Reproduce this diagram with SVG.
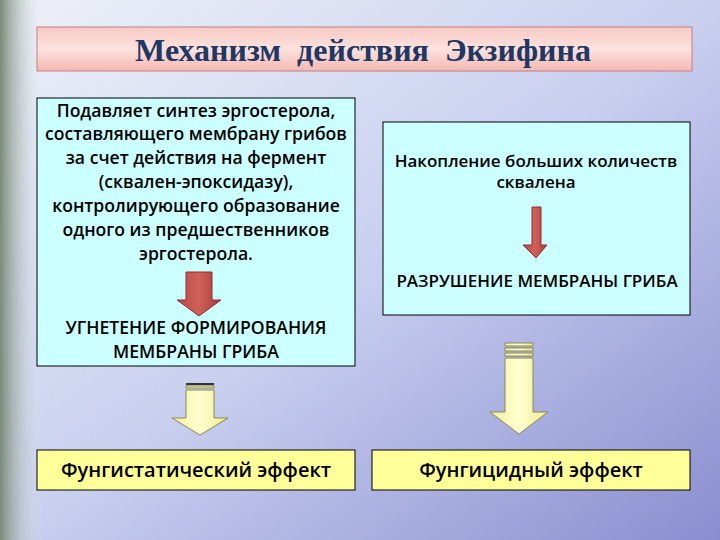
<svg xmlns="http://www.w3.org/2000/svg" width="720" height="540" viewBox="0 0 720 540">
<defs>
<linearGradient id="bg" x1="0" y1="0" x2="1" y2="1"><stop offset="0" stop-color="#eef1f8"/><stop offset="0.5" stop-color="#c9d0ef"/><stop offset="1" stop-color="#8a8ed0"/></linearGradient>
<linearGradient id="lb" x1="0" y1="0" x2="1" y2="0"><stop offset="0" stop-color="#7a8a7a"/><stop offset="0.06" stop-color="#e6eaf2" stop-opacity="0"/></linearGradient>
<linearGradient id="tt" x1="0" y1="0" x2="0" y2="1"><stop offset="0" stop-color="#f7c9c4"/><stop offset="0.5" stop-color="#fde2de"/><stop offset="1" stop-color="#f4b8b2"/></linearGradient>
<linearGradient id="ra" x1="0" y1="0" x2="1" y2="0"><stop offset="0" stop-color="#b84a45"/><stop offset="0.5" stop-color="#d0605a"/><stop offset="1" stop-color="#a83a36"/></linearGradient>
<linearGradient id="ya" x1="0" y1="0" x2="1" y2="0"><stop offset="0" stop-color="#f4f0a0"/><stop offset="0.5" stop-color="#ffffd0"/><stop offset="1" stop-color="#eeea90"/></linearGradient>
</defs>
<style>
.t{font-family:"Open Sans","Liberation Sans",sans-serif;fill:#000;text-anchor:middle;font-weight:600}
.box{fill:#ccffff;stroke:#000;stroke-width:1}
.yb{fill:#ffff99;stroke:#000;stroke-width:1}
.ya{fill:url(#ya);stroke:#8a8a50;stroke-width:1}
</style>
<rect width="720" height="540" fill="url(#bg)"/>
<rect width="720" height="540" fill="url(#lb)"/>
<g id="title"><rect x="37" y="27" width="655" height="44" fill="url(#tt)" stroke="#c08080"/><text x="363" y="61" font-family="Liberation Serif,serif" font-size="32" font-weight="bold" fill="#1f3864" text-anchor="middle" xml:space="preserve">Механизм  действия  Экзифина</text></g>
<g id="left"><rect class="box" x="37" y="98" width="318" height="268"/>
<text class="t" font-size="17.6"><tspan x="196" y="117">Подавляет синтез эргостерола,</tspan><tspan x="196" y="140">составляющего мембрану грибов</tspan><tspan x="196" y="164">за счет действия на фермент</tspan><tspan x="196" y="188">(сквален-эпоксидазу),</tspan><tspan x="196" y="212">контролирующего образование</tspan><tspan x="196" y="236">одного из предшественников</tspan><tspan x="196" y="260">эргостерола.</tspan></text>
<text class="t" font-size="17.6"><tspan x="196" y="334">УГНЕТЕНИЕ ФОРМИРОВАНИЯ</tspan><tspan x="196" y="358">МЕМБРАНЫ ГРИБА</tspan></text></g>
<g id="right"><rect class="box" x="383" y="122" width="307" height="193"/>
<text class="t" font-size="17"><tspan x="536" y="167">Накопление больших количеств</tspan><tspan x="536" y="188">сквалена</tspan></text>
<text class="t" x="537" y="287" font-size="17">РАЗРУШЕНИЕ МЕМБРАНЫ ГРИБА</text></g>
<g id="fungistatic"><rect class="yb" x="37" y="450" width="318" height="40"/><text class="t" x="196" y="477" font-size="20">Фунгистатический эффект</text></g>
<g id="fungicidal"><rect class="yb" x="372" y="450" width="318" height="40"/><text class="t" x="531" y="477" font-size="20">Фунгицидный эффект</text></g>
<g id="connectors">
<polygon points="186,272 212,272 212,300 221,300 199,316 177,300 186,300" fill="url(#ra)" stroke="#8a3030"/>
<polygon points="532,207 541,207 541,245 547,245 536,258 523,245 532,245" fill="url(#ra)" stroke="#8a3030"/>
<rect x="186" y="383" width="28" height="2" fill="#333"/><rect x="186" y="386" width="28" height="2" class="ya"/>
<polygon points="186,390 214,390 214,418 228,418 200,435 172,418 186,418" class="ya"/>
<rect x="505" y="343" width="28" height="3" class="ya"/><rect x="505" y="348" width="28" height="3" class="ya"/><rect x="505" y="353" width="28" height="3" class="ya"/>
<polygon points="505,358 533,358 533,412 548,412 519,434 490,412 505,412" class="ya"/>
</g>
</svg>
